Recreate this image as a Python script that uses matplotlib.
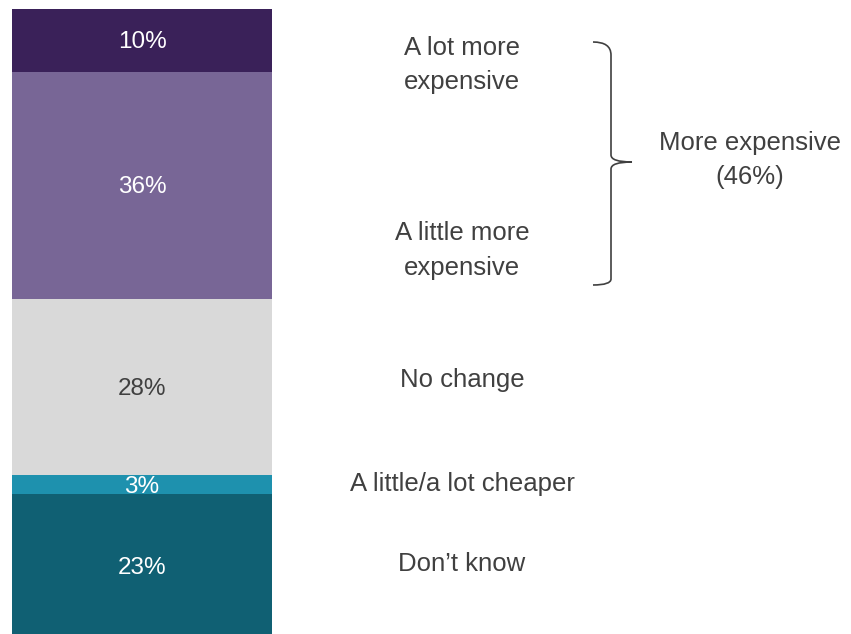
import matplotlib
matplotlib.use("Agg")
import matplotlib.pyplot as plt
from matplotlib.path import Path
from matplotlib.patches import PathPatch
import matplotlib.transforms as mtransforms

plt.rcParams['font.family'] = ['Liberation Sans', 'DejaVu Sans']

categories = ["A lot more\nexpensive", "A little more\nexpensive", "No change",
              "A little/a lot cheaper", "Don\u2019t know"]
values = [10, 36, 28, 3, 23]
pct_labels = ["10%", "36%", "28%", "3%", "23%"]
colors = ["#3A2159", "#786696", "#D9D9D9", "#1E91AE", "#106073"]
pct_colors = ["white", "white", "#404040", "white", "white"]
group_label = "More expensive\n(46%)"

W, H = 851, 634
fig = plt.figure(figsize=(W / 100, H / 100), dpi=100)
ax = fig.add_axes([12 / W, -5 / H, 260 / W, 630 / H])
ax.set_xlim(-0.5, 0.5)
ax.set_ylim(100, 0)
ax.axis("off")

bottom = 0
for v, c, lab, lc in zip(values, colors, pct_labels, pct_colors):
    ax.bar(0, v, bottom=bottom, width=1.0, color=c, linewidth=0)
    ax.text(0, bottom + v / 2 + 0.3, lab, ha="center", va="center", color=lc, fontsize=17.5)
    bottom += v

# category label vertical positions (layout, in bar percent units)
label_y = [8.9, 38.3, 58.9, 75.4, 88.1]
trans = mtransforms.blended_transform_factory(fig.transFigure, ax.transData)
for lab, y in zip(categories, label_y):
    ax.text(462 / W, y, lab, transform=trans, ha="center", va="center",
            color="#404040", fontsize=18.5, linespacing=1.55)

# brace
def px(x, y):
    return (x / W, 1 - y / H)

verts = [px(593, 42), px(611, 42), px(611, 55), px(611, 155), px(611, 162), px(632, 162),
         px(611, 162), px(611, 169), px(611, 279), px(611, 285), px(593, 285)]
codes = [Path.MOVETO, Path.CURVE3, Path.CURVE3, Path.LINETO, Path.CURVE3, Path.CURVE3,
         Path.CURVE3, Path.CURVE3, Path.LINETO, Path.CURVE3, Path.CURVE3]
fig.patches.append(PathPatch(Path(verts, codes), transform=fig.transFigure,
                             fill=False, edgecolor="#404040", linewidth=1.2))

fig.text(750 / W, 1 - 160 / H, group_label, ha="center", va="center",
         color="#404040", fontsize=18.5, linespacing=1.55)

fig.savefig("out.png", dpi=100, facecolor="white")
